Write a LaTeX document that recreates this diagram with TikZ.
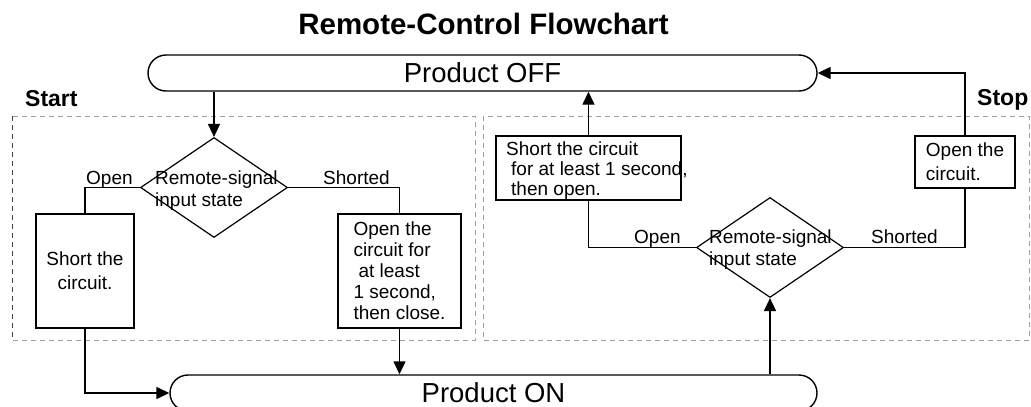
\documentclass[tikz,border=0pt]{standalone}
\usepackage{fontspec}
\setmainfont{Liberation Sans}
\usetikzlibrary{arrows.meta,shapes.geometric,calc}
\newcommand\fsmall{\fontsize{19}{22}\selectfont}
\begin{document}
\begin{tikzpicture}[x=1pt,y=-1pt,
  line/.style={line width=1.4pt},
  conn/.style={line width=1.4pt,-{Triangle[length=13pt,width=12pt]}},
  term/.style={draw,line width=1.4pt,rectangle,rounded corners=18pt,minimum height=36pt,inner sep=0pt,font=\fontsize{27.5}{30}\selectfont},
  box/.style={draw,line width=1.2pt,fill=white,inner sep=0pt,font=\fsmall},
  dia/.style={draw,line width=1.2pt,diamond,inner sep=0pt,minimum width=147pt,minimum height=100pt},
  lbl/.style={inner sep=0pt,font=\fsmall},
  dashbox/.style={draw=gray!75,line width=1pt,dash pattern=on 5pt off 4pt},
  head/.style={inner sep=0pt,font=\bfseries\fontsize{23}{26}\selectfont}]
\useasboundingbox (0,0) rectangle (1031,407);
% dashed areas
\draw[dashbox] (12,116) rectangle (475,340);
\draw[dashbox,draw=gray!50!black] (12,116) -- (12,340);
\draw[dashbox] (483,116) rectangle (1029,340);
% title and headings
\node[inner sep=0pt,anchor=base,font=\bfseries\fontsize{29.5}{32}\selectfont] (title) at (483.5,34) {Remote-Control Flowchart};
\node[head,anchor=base west] (start) at (25,106) {Start};
\node[head,anchor=base west] (stop) at (977,105) {Stop};
% terminals
\node[term,minimum width=669pt] (off) at (482.5,73) {Product OFF};
\node[term,minimum width=647pt] (on) at (493.5,393) {Product ON};
% decisions
\node[dia] (d1) at (214,187.5) {};
\node[lbl,anchor=north west,align=left] (d1t) at (155,170.5) {Remote-signal\\input state};
\node[dia] (d2) at (770,247.5) {};
\node[lbl,anchor=north west,align=left] (d2t) at (709,229.5) {Remote-signal\\input state};
% boxes
\node[box,minimum width=98pt,minimum height=114pt,align=center,font=\fontsize{19}{24}\selectfont] (b1) at (85,271) {Short the\\circuit.};
\node[box,minimum width=123pt,minimum height=114pt,align=left,font=\fontsize{19}{21}\selectfont] (b2) at (399.5,271) {Open the\\circuit for\\\hspace*{5pt}at least\\1 second,\\then close.};
\node[box,minimum width=185pt,minimum height=64pt] (b3) at (588.5,168) {};
\node[lbl,anchor=north west,align=left,font=\fontsize{19}{20}\selectfont] (b3t) at (506,141.5) {Short the circuit\\\hspace*{5pt}for at least 1 second,\\\hspace*{5pt}then open.};
\node[box,minimum width=100pt,minimum height=52pt,align=left,font=\fontsize{19}{24}\selectfont] (b4) at (965,162) {Open the\\circuit.};
% branch labels
\node[lbl,anchor=base west] (l1) at (86,184) {Open};
\node[lbl,anchor=base west] (l2) at (323,184) {Shorted};
\node[lbl,anchor=base west] (l3) at (634,243) {Open};
\node[lbl,anchor=base west] (l4) at (871,243) {Shorted};
% connectors
\draw[conn] (d1.north |- off.south) -- (d1.north);
\draw[line] (d1.west) -| (b1.north);
\draw[line] (d1.east) -| (b2.north);
\draw[conn] (b1.south) |- (on.west);
\draw[conn] (b2.south) -- (b2.south |- on.north);
\draw[conn] (d2.south |- on.north) -- (d2.south);
\draw[line] (d2.west) -| (b3.south);
\draw[conn] (b3.north) -- (b3.north |- off.south);
\draw[line] (d2.east) -| (b4.south);
\draw[conn] (b4.north) |- (off.east);
\end{tikzpicture}
\end{document}
